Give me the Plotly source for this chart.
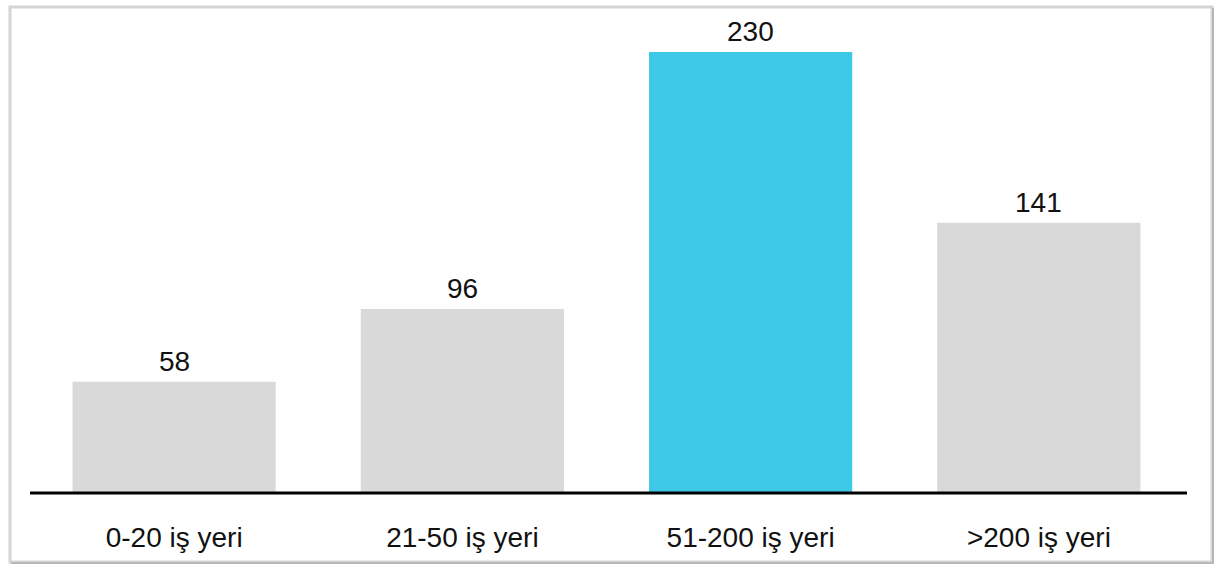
import plotly.graph_objects as go

categories = ["0-20 iş yeri", "21-50 iş yeri", "51-200 iş yeri", ">200 iş yeri"]
values = [58, 96, 230, 141]
colors = ["#d9d9d9", "#d9d9d9", "#3ec8e8", "#d9d9d9"]

W, H = 1221, 570
L, R, T, B = 30, 1221 - 1183, 20, 570 - 493
pw, ph = W - L - R, H - T - B

def px(x):
    return (x - L) / pw

def py(y):
    return (H - B - y) / ph

FONT = "Liberation Sans, Arial"

fig = go.Figure()
fig.add_trace(go.Bar(x=categories, y=values, marker_color=colors, width=0.705,
                     marker_line_width=0, hoverinfo="skip"))

for c, v in zip(categories, values):
    fig.add_annotation(x=c, y=v, text=str(v), showarrow=False, yanchor="bottom",
                       yshift=3, font=dict(size=28, color="#111111", family=FONT))

shapes = [
    dict(type="rect", xref="paper", yref="paper", x0=px(10), x1=px(1212),
         y0=py(562), y1=py(7), line=dict(color="#d4d4d4", width=3)),
    dict(type="line", xref="paper", yref="paper", x0=px(1213), x1=px(1213),
         y0=py(563), y1=py(8), line=dict(color="#b8b8b8", width=2)),
    dict(type="line", xref="paper", yref="paper", x0=px(11), x1=px(1214),
         y0=py(563), y1=py(563), line=dict(color="#b8b8b8", width=2)),
    dict(type="line", xref="paper", yref="paper", x0=px(30), x1=px(1187),
         y0=0, y1=0, line=dict(color="black", width=3)),
]

fig.update_layout(
    width=W, height=H,
    margin=dict(l=L, r=R, t=T, b=B),
    paper_bgcolor="white", plot_bgcolor="white",
    showlegend=False, shapes=shapes, bargap=0.295,
    font=dict(family=FONT, size=28, color="#111111"),
    xaxis=dict(showline=False, showgrid=False, ticks="outside", ticklen=19,
               tickcolor="rgba(0,0,0,0)", tickfont=dict(size=28, color="#111111"),
               fixedrange=True),
    yaxis=dict(range=[0, 473 / (441 / 230)], visible=False, showgrid=False,
               fixedrange=True),
)

fig.write_html("out.html", config={"displayModeBar": False})
